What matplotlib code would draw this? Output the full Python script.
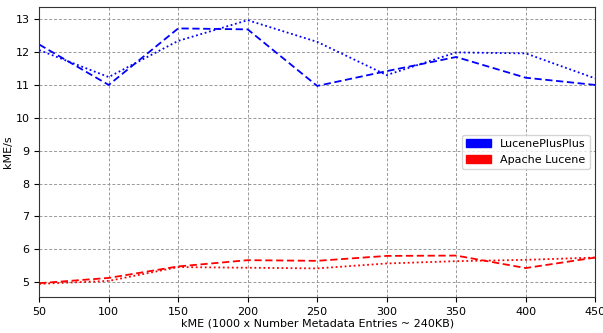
import matplotlib
matplotlib.use("Agg")
import matplotlib.pyplot as plt
import matplotlib.patches as mpatches

# kME sizes
sizes = [50, 100, 150, 200, 250, 300, 350, 400, 450]

# LucenePlusPlus runs
lpp_a = [12.23, 11.00, 12.72, 12.69, 10.97, 11.42, 11.85, 11.22, 11.00]
lpp_b = [12.06, 11.24, 12.34, 12.97, 12.31, 11.30, 11.99, 11.96, 11.20]

# Apache Lucene runs
jl_a = [4.97, 5.13, 5.48, 5.67, 5.65, 5.80, 5.81, 5.43, 5.75]
jl_b = [4.95, 5.04, 5.46, 5.44, 5.42, 5.57, 5.64, 5.68, 5.75]

plt.rcParams['font.size'] = 8

fig, ax = plt.subplots(figsize=(6.03, 3.33), dpi=100)
ax.plot(sizes, lpp_a, color='blue', linestyle=(0, (4, 2)), linewidth=1.3)
ax.plot(sizes, lpp_b, color='blue', linestyle=(0, (1, 1.5)), linewidth=1.3)
ax.plot(sizes, jl_a, color='red', linestyle=(0, (4, 2)), linewidth=1.3)
ax.plot(sizes, jl_b, color='red', linestyle=(0, (1, 1.5)), linewidth=1.3)

ax.set_xlim(50, 450)
ax.set_xlabel('kME (1000 x Number Metadata Entries ~ 240KB)', labelpad=1)
ax.set_ylabel('kME/s', labelpad=2)
ax.grid(True, color='#999999', linestyle=(0, (3, 2)), linewidth=0.7)
for s in ax.spines.values():
    s.set_color('#333333')

handles = [mpatches.Patch(color='blue', label='LucenePlusPlus'),
           mpatches.Patch(color='red', label='Apache Lucene')]
ax.legend(handles=handles, loc='center right', handlelength=2.2)

fig.subplots_adjust(left=0.065, right=0.987, top=0.979, bottom=0.108)
fig.savefig('out.png', dpi=100)
